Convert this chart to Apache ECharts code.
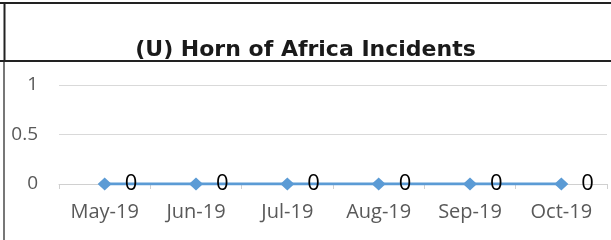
<!DOCTYPE html>
<html>
<head>
<meta charset="utf-8">
<script src="https://cdn.jsdelivr.net/npm/echarts@6/dist/echarts.min.js"></script>
<style>
  html, body { margin: 0; padding: 0; background: #fff; }
  #chart { width: 611px; height: 240px; }
</style>
</head>
<body>
<div id="chart"></div>
<script>
// 数据
const months = ['May-19', 'Jun-19', 'Jul-19', 'Aug-19', 'Sep-19', 'Oct-19'];
const incidents = [0, 0, 0, 0, 0, 0];
const yTicks = [0, 0.5, 1];

const mycharts = echarts.init(document.getElementById('chart'));
mycharts.setOption({
  backgroundColor: '#fff',
  animation: false,
  title: {
    text: '(U) Horn of Africa Incidents',
    left: 'center',
    top: 34,
    textStyle: {
      fontFamily: 'DejaVu Sans',
      fontWeight: 'bold',
      fontSize: 22,
      color: '#1a1a1a'
    }
  },
  // 外框线
  graphic: [
    { type: 'line', shape: { x1: 0, y1: 3, x2: 611, y2: 3 }, style: { stroke: '#222', lineWidth: 2 } },
    { type: 'line', shape: { x1: 4.5, y1: 3, x2: 4.5, y2: 61 }, style: { stroke: '#222', lineWidth: 2 } },
    { type: 'line', shape: { x1: 0, y1: 61, x2: 611, y2: 61 }, style: { stroke: '#222', lineWidth: 2 } },
    { type: 'line', shape: { x1: 4, y1: 62, x2: 4, y2: 240 }, style: { stroke: '#777', lineWidth: 2 } }
  ],
  grid: {
    left: 59,
    right: 4,
    top: 85,
    bottom: 56,
    containLabel: false
  },
  xAxis: {
    type: 'category',
    data: months,
    boundaryGap: true,
    axisLine: { lineStyle: { color: '#d0d0d0', width: 1 } },
    axisTick: { show: true, length: 5, lineStyle: { color: '#d0d0d0' } },
    axisLabel: {
      color: '#595959',
      fontFamily: 'Open Sans',
      fontSize: 20,
      margin: 18
    }
  },
  yAxis: {
    type: 'value',
    min: yTicks[0],
    max: yTicks[yTicks.length - 1],
    interval: 0.5,
    axisLine: { show: false },
    axisTick: { show: false },
    splitLine: { lineStyle: { color: '#d9d9d9', width: 1 } },
    axisLabel: {
      color: '#595959',
      fontFamily: 'Open Sans',
      fontSize: 19,
      margin: 21
    }
  },
  series: [
    {
      name: 'Incidents',
      type: 'line',
      data: incidents,
      symbol: 'diamond',
      symbolSize: [14, 13],
      lineStyle: { color: '#5b9bd5', width: 3 },
      itemStyle: { color: '#5b9bd5' },
      label: {
        show: true,
        position: 'right',
        distance: 13,
        color: '#000',
        fontFamily: 'Open Sans',
        fontSize: 22
      }
    }
  ]
});
</script>
</body>
</html>
